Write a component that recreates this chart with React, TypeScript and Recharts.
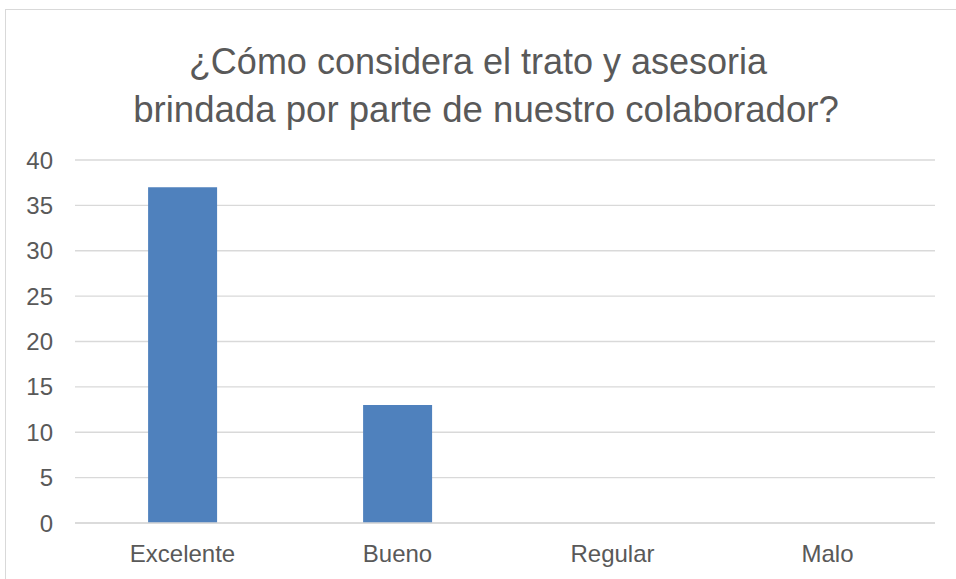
import React from "react";
import { BarChart, Bar, XAxis, YAxis, CartesianGrid } from "recharts";

const categories = ["Excelente", "Bueno", "Regular", "Malo"];
const values = [37, 13, 0, 0];
const yTicks = [0, 5, 10, 15, 20, 25, 30, 35, 40];
const titleLines = [
  "¿Cómo considera el trato y asesoria",
  "brindada por parte de nuestro colaborador?",
];

const data = categories.map((c, i) => ({ name: c, value: values[i] }));

const FONT = "'Liberation Sans', Arial, sans-serif";
const TEXT = "#595959";

export default function App() {
  return (
    <div style={{ position: "absolute", left: 0, top: 0, width: 956, height: 579, background: "#fff", fontFamily: FONT, overflow: "hidden" }}>
      <div style={{ position: "absolute", left: 5, top: 9, width: 960, height: 600, border: "1px solid #d9d9d9", boxSizing: "border-box" }} />
      <div style={{ position: "absolute", left: 0, top: 38, width: 956, textAlign: "center", color: TEXT, lineHeight: "48px" }}>
        {titleLines.map((l, i) => (
          <div key={i} style={{ paddingLeft: i === 1 ? 16 : 0, fontSize: i === 1 ? 36.6 : 36 }}>{l}</div>
        ))}
      </div>
      <div style={{ position: "absolute", left: 0, top: 0 }}>
        <BarChart width={956} height={579} data={data} margin={{ top: 160, right: 21, bottom: 26, left: 0 }} barCategoryGap="34%">
          <CartesianGrid vertical={false} stroke="#d9d9d9" strokeWidth={1.3} />
          <XAxis dataKey="name" height={30} tickLine={false} tickSize={0} tickMargin={22} axisLine={{ stroke: "#d9d9d9", strokeWidth: 1.3 }} tick={{ fill: TEXT, fontSize: 24, fontFamily: FONT }} />
          <YAxis width={75} domain={[0, 40]} ticks={yTicks} interval={0} axisLine={false} tickLine={false} tickSize={0} tickMargin={22} tick={{ fill: TEXT, fontSize: 24, fontFamily: FONT }} />
          <Bar dataKey="value" fill="#4F81BD" isAnimationActive={false} />
        </BarChart>
      </div>
    </div>
  );
}
